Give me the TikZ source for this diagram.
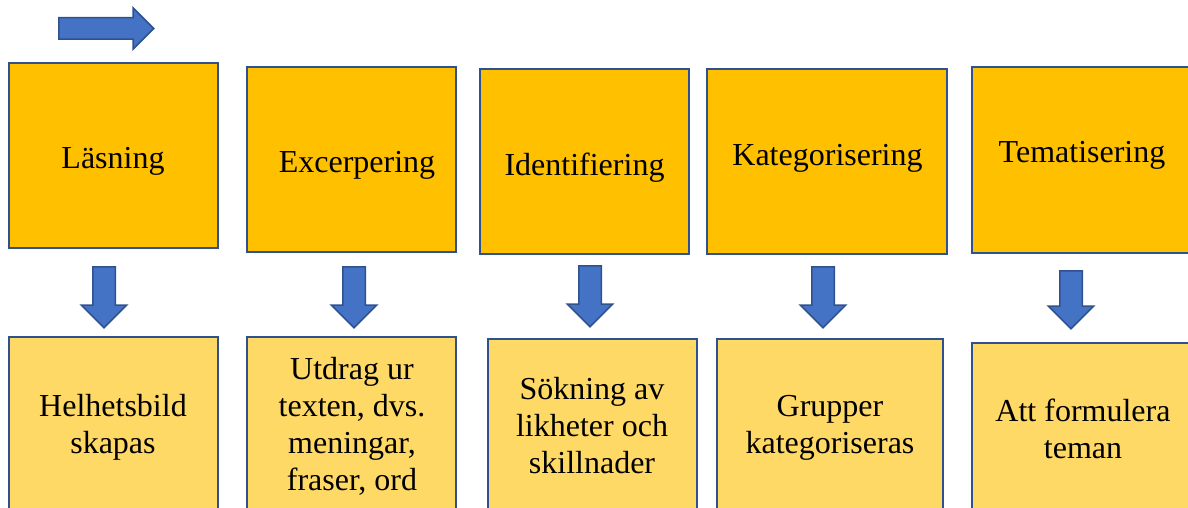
\documentclass[tikz,border=0pt]{standalone}
\usepackage{fontspec}
\setmainfont{Liberation Serif}
\usetikzlibrary{shapes.arrows}
\definecolor{boxorange}{HTML}{FFC000}
\definecolor{boxyellow}{HTML}{FFD966}
\definecolor{arrowblue}{HTML}{4472C4}
\definecolor{edgeblue}{HTML}{2F528F}
\newcommand{\bigtxt}    {\fontsize{32}{36.8}\selectfont}

\begin{document}
\begin{tikzpicture}[x=1pt,y=-1pt,
   stepbox/.style={draw=edgeblue,line width=2.5pt,minimum width=209pt,minimum height=185pt},
   topbox/.style={stepbox,fill=boxorange},
   lowbox/.style={stepbox,fill=boxyellow,minimum height=193pt},
   steptext/.style={anchor=base,align=center,inner sep=0pt,font=\bigtxt},
   blockarrow/.style={single arrow,anchor=tail,draw=edgeblue,fill=arrowblue,line width=1.5pt,
      inner xsep=0pt,inner ysep=10.5pt,single arrow head extend=11.5pt,minimum height=61pt}]
   \useasboundingbox (0,0) rectangle (1188,508);
   \node[blockarrow,minimum height=95pt,inner ysep=10pt,single arrow head extend=10pt] (go) at (58,28.5) {};
   \node[topbox] (t1) at (113.5,155.5) {};
   \node[topbox] (t2) at (351.5,159.5) {};
   \node[topbox] (t3) at (584.5,161.5) {};
   \node[topbox,minimum width=240pt] (t4) at (827,161.5) {};
   \node[topbox,minimum width=240pt,minimum height=186pt] (t5) at (1092,160) {};
   \node[lowbox] (b1) at (113.5,433.5) {};
   \node[lowbox] (b2) at (351.5,433.5) {};
   \node[lowbox,minimum height=191pt] (b3) at (592.5,434.5) {};
   \node[lowbox,minimum width=226pt,minimum height=191pt] (b4) at (830,434.5) {};
   \node[lowbox,minimum width=240pt,minimum height=187pt] (b5) at (1092,436.5) {};
   \node[steptext] (l1) at (113,168) {Läsning};
   \node[steptext] (l2) at (357,172) {Excerpering};
   \node[steptext] (l3) at (584.5,175) {Identifiering};
   \node[steptext] (l4) at (827.5,165) {Kategorisering};
   \node[steptext] (l5) at (1082,162) {Tematisering};
   \node[steptext] (r1) at (113,453) {Helhetsbild\\skapas};
   \node[steptext] (r2) at (352,490) {Utdrag ur\\texten, dvs.\\meningar,\\fraser, ord};
   \node[steptext] (r3) at (592,473) {Sökning av\\likheter och\\skillnader};
   \node[steptext] (r4) at (830,453) {Grupper\\kategoriseras};
   \node[steptext] (r5) at (1083,458) {Att formulera\\teman};
   \node[blockarrow,rotate=-90] (a1) at (104,266) {};
   \node[blockarrow,rotate=-90] (a2) at (354,266) {};
   \node[blockarrow,rotate=-90] (a3) at (590,265) {};
   \node[blockarrow,rotate=-90] (a4) at (823,266) {};
   \node[blockarrow,rotate=-90,minimum height=58pt] (a5) at (1071,270) {};
  \end{tikzpicture}
\end{document}
